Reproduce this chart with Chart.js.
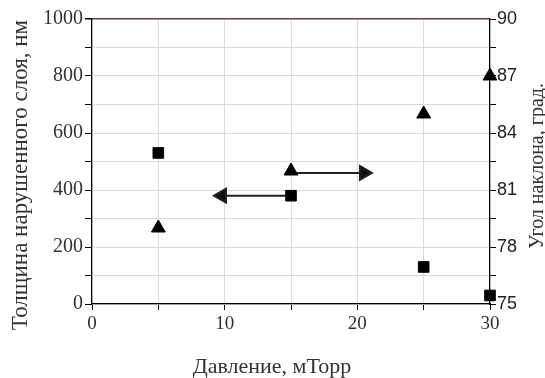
<!DOCTYPE html>
<html>
<head>
<meta charset="utf-8">
<script src="https://cdn.jsdelivr.net/npm/chart.js@4/dist/chart.umd.min.js"></script>
<style>
  body { margin: 0; background: #fff; }
  #wrap { width: 545px; height: 378px; }
</style>
</head>
<body>
<div id="wrap"><canvas id="myChart"></canvas></div>
<script>
// данные с графика
const pressure = [5, 15, 25, 30];          // давление, мТорр
const thickness = [530, 380, 130, 30];     // толщина нарушенного слоя, нм
const angle = [79, 82, 85, 87];            // угол наклона, град.

// стрелки: к какой оси относится серия
const arrowLeftX = [15, 9.8];
const arrowLeftY = [380, 380];
const arrowRightX = [15, 20.5];
const arrowRightY = [81.9, 81.9];

const yTicks = [0, 200, 400, 600, 800, 1000];
const y2Ticks = [75, 78, 81, 84, 87, 90];
const xTicks = [0, 10, 20, 30];

function pts(xs, ys) {
    return xs.map((x, i) => ({ x: x, y: ys[i] }));
}

// подписи осей рисуем сами, как в оригинале
function drawText(c, text, x, y, rot, size) {
    c.save();
    c.translate(x, y);
    c.rotate(rot);
    c.font = size + 'px "Liberation Serif"';
    c.fillStyle = '#333';
    c.textAlign = 'center';
    c.textBaseline = 'alphabetic';
    c.fillText(text, 0, 0);
    c.restore();
}

const axisTitles = {
    id: 'axisTitles',
    afterDraw(chart) {
        const c = chart.ctx;
        drawText(c, 'Толщина нарушенного слоя, нм', 27, 175, -Math.PI / 2, 23);
        drawText(c, 'Давление, мТорр', 272, 373, 0, 22);
        drawText(c, 'Угол наклона, град.', 543, 166, -Math.PI / 2, 20);
    }
};

var ctx = document.getElementById('myChart').getContext('2d');
var myChart = new Chart(ctx, {
    type: 'scatter',
    data: {
        datasets: [
            {
                data: pts(pressure, thickness),
                yAxisID: 'y',
                pointStyle: 'rect',
                pointRadius: 7.5,
                backgroundColor: '#000',
                borderColor: '#000',
                clip: false
            },
            {
                data: pts(pressure, angle),
                yAxisID: 'y2',
                pointStyle: 'triangle',
                pointRadius: 8,
                backgroundColor: '#000',
                borderColor: '#000',
                clip: false
            },
            {
                type: 'line',
                data: pts(arrowLeftX, arrowLeftY),
                yAxisID: 'y',
                borderColor: '#222',
                borderWidth: 2,
                backgroundColor: '#111',
                pointStyle: 'triangle',
                pointRadius: [0, 8],
                pointRotation: -90
            },
            {
                type: 'line',
                data: pts(arrowRightX, arrowRightY),
                yAxisID: 'y2',
                borderColor: '#222',
                borderWidth: 2,
                backgroundColor: '#111',
                pointStyle: 'triangle',
                pointRadius: [0, 8],
                pointRotation: 90
            }
        ]
    },
    options: {
        responsive: true,
        maintainAspectRatio: false,
        animation: false,
        layout: { padding: { top: 19, left: 0, right: 0, bottom: 0 } },
        plugins: { legend: { display: false }, tooltip: { enabled: false } },
        scales: {
            x: {
                type: 'linear',
                min: 0, max: 30,
                afterFit: s => { s.height = 74; },
                ticks: {
                    stepSize: 5,
                    color: '#3a2a2a',
                    font: { family: 'Liberation Serif', size: 19 },
                    padding: 3,
                    callback: v => xTicks.includes(v) ? v : ''
                },
                grid: { color: '#dadada', tickLength: 6, tickColor: '#000' },
                border: { color: '#000', width: 1.2 }
            },
            y: {
                position: 'left',
                min: 0, max: 1000,
                afterFit: s => { s.width = 92; },
                ticks: {
                    stepSize: 100,
                    color: '#333',
                    font: { family: 'Liberation Serif', size: 20 },
                    padding: 2,
                    callback: v => yTicks.includes(v) ? v : ''
                },
                grid: {
                    color: c => c.tick && c.tick.value === 1000 ? '#6e3a3a' : '#dadada',
                    lineWidth: c => c.tick && c.tick.value === 1000 ? 1.5 : 1,
                    tickLength: 7,
                    tickColor: '#000'
                },
                border: { color: '#000', width: 1.2 }
            },
            y2: {
                position: 'right',
                min: 75, max: 90,
                afterFit: s => { s.width = 55; },
                ticks: {
                    stepSize: 1.5,
                    color: '#222',
                    font: { family: 'Liberation Sans', size: 18 },
                    padding: 1,
                    callback: v => y2Ticks.includes(v) ? v : ''
                },
                grid: { drawOnChartArea: false, tickLength: 6, tickColor: '#000' },
                border: { color: '#000', width: 1.2 }
            }
        }
    },
    plugins: [axisTitles]
});
</script>
</body>
</html>
